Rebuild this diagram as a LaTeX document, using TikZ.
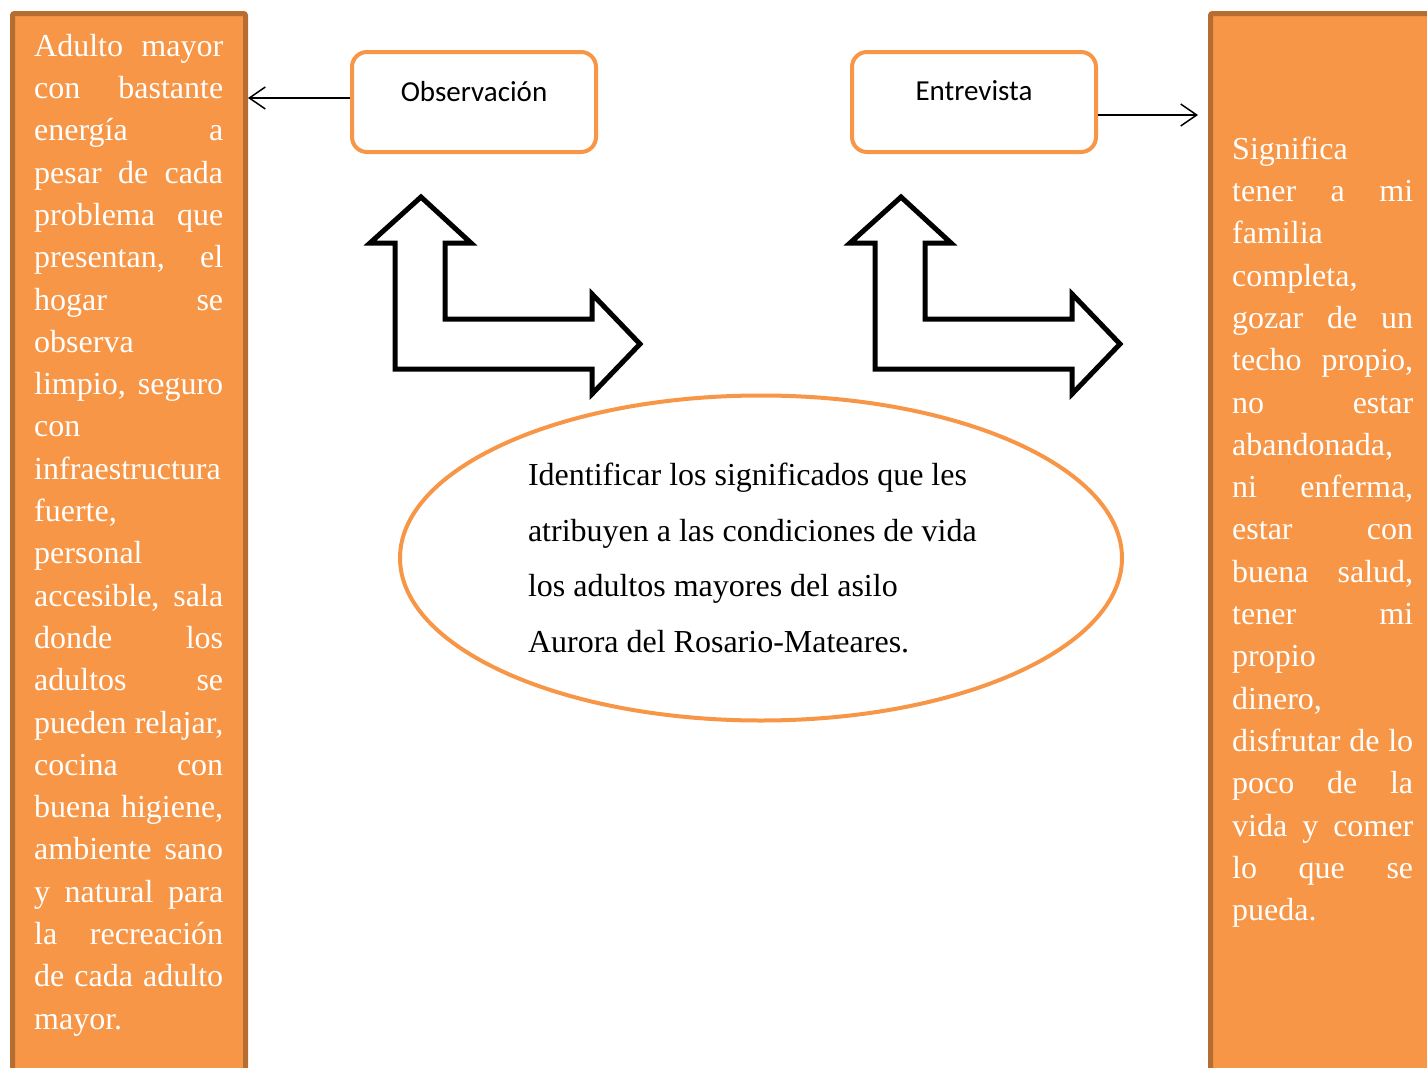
\documentclass[tikz,border=0pt]{standalone}
\usepackage{fontspec}
\setmainfont{Liberation Serif}
\newfontfamily\labelfont{Carlito}
\usetikzlibrary{arrows.meta,shapes.geometric}

\definecolor{boxorange}{HTML}{F79646}
\definecolor{boxedge}{HTML}{B66D31}

% justified white text of the side boxes, one forced line per row
\newcommand{\sidefont}{\fontsize{32}{42.3}\selectfont
  \tolerance=10000 \hbadness=10000 \hyphenpenalty=10000 \relax}

\begin{document}
\begin{tikzpicture}[x=1pt,y=-1pt,
    sidebox/.style={draw=boxedge,fill=boxorange,line width=5pt,rounded corners=2pt,
      anchor=north west,inner sep=0pt},
    sidetext/.style={text=white,anchor=north west,inner sep=0pt,align=justify,font=\sidefont},
    methodbox/.style={draw=boxorange,line width=4pt,rounded corners=15pt,
      minimum width=244pt,minimum height=100pt},
    methodlabel/.style={anchor=base,inner sep=0pt,font=\labelfont\fontsize{29}{34}\selectfont},
    goal/.style={ellipse,draw=boxorange,line width=4pt,minimum width=722pt,minimum height=325pt,
      inner sep=0pt,text width=466pt,align=flush left,font=\fontsize{32}{55.4}\selectfont},
    bentarrow/.style={draw=black,fill=white,line width=5pt},
    conn/.style={line width=1.5pt,-{Straight Barb[length=16pt,width=22pt]}}
  ]
  \clip (0,0) rectangle (1427,1068);

  % Side boxes (run off the page)
  \node[sidebox,minimum width=233pt,minimum height=1087pt] (lbox) at (10,11) {};
  \node[sidebox,minimum width=300pt,minimum height=1087pt] (rbox) at (1208,11) {};

  \node[sidetext,text width=189pt] (ltext) at (34,26.4) {\strut Adulto mayor\linebreak
    con bastante\linebreak energía a\linebreak pesar de cada\linebreak
    problema que\linebreak presentan, el\linebreak hogar se\linebreak observa\linebreak
    limpio, seguro\linebreak con\linebreak infraestructura\linebreak fuerte,\linebreak
    personal\linebreak accesible, sala\linebreak donde los\linebreak adultos se\linebreak
    pueden relajar,\linebreak cocina con\linebreak buena higiene,\linebreak
    ambiente sano\linebreak y natural para\linebreak la recreación\linebreak
    de cada adulto\linebreak mayor.};

  \node[sidetext,text width=181pt] (rtext) at (1232,129.4) {\strut Significa\linebreak
    tener a mi\linebreak familia\linebreak completa,\linebreak gozar de un\linebreak
    techo propio,\linebreak no estar\linebreak abandonada,\linebreak ni enferma,\linebreak
    estar con\linebreak buena salud,\linebreak tener mi\linebreak propio\linebreak
    dinero,\linebreak disfrutar de lo\linebreak poco de la\linebreak vida y comer\linebreak
    lo que se\linebreak pueda.};

  % Method boxes
  \node[methodbox] (obs) at (474,102) {};
  \node[methodlabel] (obstxt) at (474,101) {Observación};
  \node[methodbox] (ent) at (974,102) {};
  \node[methodlabel] (enttxt) at (974,100) {Entrevista};

  % Connectors to the side boxes
  \draw[conn] ([yshift=4pt]obs.west) -- ([yshift=4pt]obs.west -| lbox.east);
  \draw[conn,shorten >=10pt] ([yshift=-13pt]ent.east) -- ([yshift=-13pt]ent.east -| rbox.west);

  % Bent double arrows
  \foreach \dx in {0,480} {
    \draw[bentarrow,shift={(\dx,0)}] (421,197) -- (471,243) -- (445,243) -- (445,319)
      -- (592,319) -- (592,294) -- (640,344) -- (592,394) -- (592,369)
      -- (395,369) -- (395,243) -- (370,243) -- cycle;
  }

  % Objective
  \node[goal] (aim) at (761,558) {\strut Identificar los significados que les\\
    atribuyen a las condiciones de vida\\
    los adultos mayores del asilo\\
    Aurora del Rosario-Mateares.\strut};
\end{tikzpicture}
\end{document}
